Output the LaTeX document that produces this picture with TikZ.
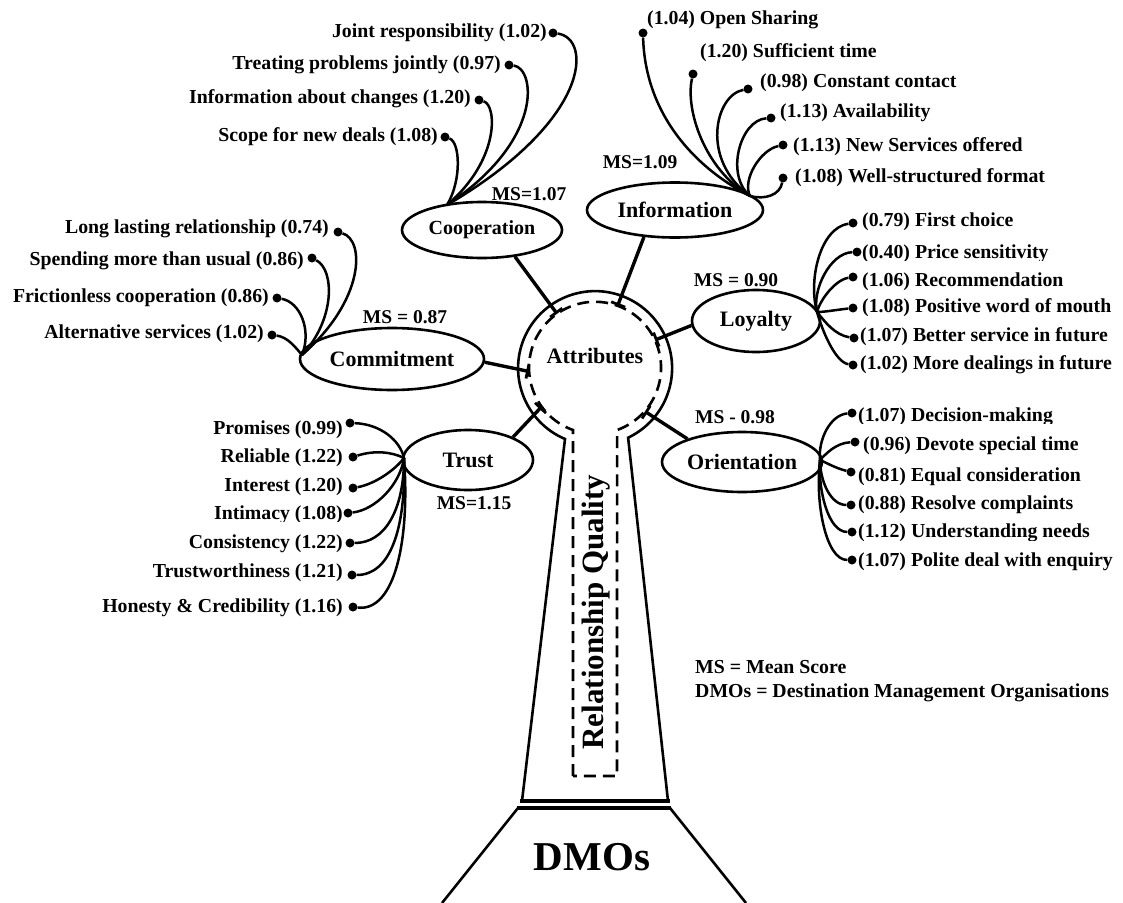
\documentclass[tikz,border=0pt]{standalone}
\usepackage{fontspec}
\setmainfont{Liberation Serif}
\usetikzlibrary{arrows.meta,positioning,shapes.geometric}

\begin{document}
\begin{tikzpicture}[x=1pt,y=-1pt,
  every node/.style={inner sep=0pt, font=\bfseries\fontsize{19.8}{22}\selectfont},
  leaf/.style={line width=2.5pt},
  dotmark/.style={circle, fill=black, minimum size=9pt, inner sep=0pt},
  topic/.style={ellipse, draw, line width=2.6pt, font=\bfseries\fontsize{22}{24}\selectfont},
  spoke/.style={line width=3.4pt, -{Bar[width=15pt,line width=2.8pt]}},
  ring/.style={line width=2.6pt},
  ms/.style={font=\bfseries\fontsize{19.5}{22}\selectfont}
]
\useasboundingbox (0,0) rectangle (1123,902);

% ---------- central hub, trunk and base ----------
\node[circle, minimum size=132pt] (attr) at (595,368) {};
\node[font=\bfseries\fontsize{22}{24}\selectfont] (attrtxt) at (595,356) {Attributes};

% outer ring opening into the trunk
\draw[ring] (522,801) -- (565,439) arc[start angle=113, end angle=424.6, radius=77] -- (668,801);
% inner dashed ring and dashed column
\draw[ring, dash pattern=on 12pt off 7pt]
  (573,776) -- (573,430) arc[start angle=109.5, end angle=430.5, radius=66] -- (617,776) -- cycle;
\node[rotate=90, font=\bfseries\fontsize{31}{34}\selectfont] (rq) at (596,612) {Relationship Quality};

% base of the trunk
\draw[line width=3.4pt] (520,801) -- (670,801);
\draw[line width=3.4pt] (517,808) -- (671,808);
\draw[ring] (518,808) -- (442,903);
\draw[ring] (670,808) -- (746,903);
\node[font=\bfseries\fontsize{41}{44}\selectfont] (dmos) at (592,857) {DMOs};

% ---------- attribute ellipses ----------
\node[topic, minimum width=160pt, minimum height=56pt, font=\bfseries\fontsize{20}{22}\selectfont] (coop) at (482,230) {Cooperation};
\node[topic, minimum width=176pt, minimum height=55pt] (info) at (675,210) {Information};
\node[topic, minimum width=184pt, minimum height=62pt] (comm) at (392,359) {Commitment};
\node[topic, minimum width=130pt, minimum height=60pt] (trust) at (468,460) {Trust};
\node[topic, minimum width=128pt, minimum height=62pt] (loy) at (756,321) {Loyalty};
\node[topic, minimum width=160pt, minimum height=60pt] (ori) at (742,462) {Orientation};

% spokes into the hub
\draw[spoke] (coop.-39) -- (attr.125);
\draw[spoke] (info.221) -- (attr.70);
\draw[spoke] (comm.-2) -- (attr.183);
\draw[spoke] (trust.27) -- (attr.216);
\draw[spoke] (loy.184) -- (attr.25);
\draw[spoke] (ori.157) -- (attr.-41);

% mean scores
\node[ms] (mscoop) at (529,194) {MS=1.07};
\node[ms] (msinfo) at (640,162) {MS=1.09};
\node[ms] (mscomm) at (405,317) {MS = 0.87};
\node[ms] (mstrust) at (474,503) {MS=1.15};
\node[ms] (msloy) at (736,280) {MS = 0.90};
\node[ms] (msori) at (735,417) {MS - 0.98};

% ---------- Cooperation items ----------
\coordinate (coopC) at (447,205);
\node[dotmark] (c1) at (553,33) {};
\node[dotmark] (c2) at (509,65) {};
\node[dotmark] (c3) at (479,100) {};
\node[dotmark] (c4) at (445,137) {};
\node[anchor=east] (c1t) at (547,33) {Joint responsibility (1.02)};
\node[anchor=east] (c2t) at (501,65) {Treating problems jointly (0.97)};
\node[anchor=east] (c3t) at (471,99) {Information about changes (1.20)};
\node[anchor=east] (c4t) at (438,137) {Scope for new deals (1.08)};
\draw[leaf] (c1) .. controls (592,38) and (592,120) .. (coopC);
\draw[leaf] (c2) .. controls (535,68) and (545,140) .. (coopC);
\draw[leaf] (c3) .. controls (497,105) and (500,160) .. (coopC);
\draw[leaf] (c4) .. controls (460,142) and (462,180) .. (coopC);

% ---------- Information items ----------
\coordinate (infoC) at (750,196);
\node[dotmark] (i1) at (643,33) {};
\node[dotmark] (i2) at (693,74) {};
\node[dotmark] (i3) at (748,89) {};
\node[dotmark] (i4) at (771,118) {};
\node[dotmark] (i5) at (783,145) {};
\node[dotmark] (i6) at (783,178) {};
\node[anchor=west] (i1t) at (647,20) {(1.04) Open Sharing};
\node[anchor=west] (i2t) at (700,53) {(1.20) Sufficient time};
\node[anchor=west] (i3t) at (760,83) {(0.98) Constant contact};
\node[anchor=west] (i4t) at (780,113) {(1.13) Availability};
\node[anchor=west] (i5t) at (793,147) {(1.13) New Services offered};
\node[anchor=west] (i6t) at (795,178) {(1.08) Well-structured format};
\draw[leaf] (i1) .. controls (645,110) and (690,165) .. (infoC);
\draw[leaf] (i2) .. controls (685,110) and (705,170) .. (infoC);
\draw[leaf] (i3) .. controls (715,95) and (700,160) .. (infoC);
\draw[leaf] (i4) .. controls (740,120) and (725,175) .. (infoC);
\draw[leaf] (i5) .. controls (760,150) and (742,180) .. (infoC);
\draw[leaf] (i6) .. controls (780,195) and (765,200) .. (infoC);

% ---------- Commitment items ----------
\coordinate (commC) at (302,355);
\node[dotmark] (m1) at (338,232) {};
\node[dotmark] (m2) at (312,258) {};
\node[dotmark] (m3) at (277,298) {};
\node[dotmark] (m4) at (272,335) {};
\node[anchor=east] (m1t) at (329,229) {Long lasting relationship (0.74)};
\node[anchor=east] (m2t) at (304,261) {Spending more than usual (0.86)};
\node[anchor=east] (m3t) at (269,298) {Frictionless cooperation (0.86)};
\node[anchor=east] (m4t) at (264,334) {Alternative services (1.02)};
\draw[leaf] (m1) .. controls (365,240) and (365,300) .. (commC);
\draw[leaf] (m2) .. controls (335,270) and (335,320) .. (commC);
\draw[leaf] (m3) .. controls (300,302) and (312,330) .. (commC);
\draw[leaf] (m4) .. controls (288,337) and (296,348) .. (commC);

% ---------- Trust items ----------
\coordinate (trustC) at (404,458);
\node[dotmark] (t1) at (350,423) {};
\node[dotmark] (t2) at (353,457) {};
\node[dotmark] (t3) at (353,488) {};
\node[dotmark] (t4) at (348,513) {};
\node[dotmark] (t5) at (350,543) {};
\node[dotmark] (t6) at (352,575) {};
\node[dotmark] (t7) at (353,607) {};
\node[anchor=east] (t1t) at (343,430) {Promises (0.99)};
\node[anchor=east] (t2t) at (343,458) {Reliable (1.22)};
\node[anchor=east] (t3t) at (343,487) {Interest (1.20)};
\begin{scope}
  \clip (150,500) rectangle (346,521);
  \node[anchor=east] (t4t) at (343,515) {Intimacy (1.08)};
\end{scope}
\node[anchor=east] (t5t) at (343,544) {Consistency (1.22)};
\node[anchor=east] (t6t) at (343,573) {Trustworthiness (1.21)};
\node[anchor=east] (t7t) at (343,608) {Honesty \& Credibility (1.16)};
\draw[leaf] (t1) .. controls (380,424) and (400,440) .. (trustC);
\draw[leaf] (t2) .. controls (375,450) and (392,452) .. (trustC);
\draw[leaf] (t3) .. controls (375,484) and (395,470) .. (trustC);
\draw[leaf] (t4) .. controls (375,510) and (400,485) .. (trustC);
\draw[leaf] (t5) .. controls (385,543) and (404,510) .. (trustC);
\draw[leaf] (t6) .. controls (390,575) and (406,530) .. (trustC);
\draw[leaf] (t7) .. controls (395,612) and (410,540) .. (trustC);

% ---------- Loyalty items ----------
\coordinate (loyC) at (817,312);
\node[dotmark] (l1) at (853,223) {};
\node[dotmark] (l2) at (857,252) {};
\node[dotmark] (l3) at (853,277) {};
\node[dotmark] (l4) at (853,308) {};
\node[dotmark] (l5) at (854,338) {};
\node[dotmark] (l6) at (853,365) {};
\node[anchor=west] (l1t) at (862,222) {(0.79) First choice};
\begin{scope}
  \clip (858,240) rectangle (1123,260);
  \node[anchor=west] (l2t) at (862,254) {(0.40) Price sensitivity};
\end{scope}
\node[anchor=west] (l3t) at (862,282) {(1.06) Recommendation};
\begin{scope}
  \clip (858,295) rectangle (1123,315);
  \node[anchor=west] (l4t) at (862,308) {(1.08) Positive word of mouth};
\end{scope}
\node[anchor=west] (l5t) at (860,337) {(1.07) Better service in future};
\node[anchor=west] (l6t) at (860,365) {(1.02) More dealings in future};
\draw[leaf] (l1) .. controls (820,228) and (808,280) .. (loyC);
\draw[leaf] (l2) .. controls (830,253) and (812,290) .. (loyC);
\draw[leaf] (l3) .. controls (835,280) and (820,300) .. (loyC);
\draw[leaf] (l4) .. controls (835,310) and (825,312) .. (loyC);
\draw[leaf] (l5) .. controls (835,335) and (825,322) .. (loyC);
\draw[leaf] (l6) .. controls (835,362) and (822,330) .. (loyC);

% ---------- Orientation items ----------
\coordinate (oriC) at (820,460);
\node[dotmark] (o1) at (852,413) {};
\node[dotmark] (o2) at (855,442) {};
\node[dotmark] (o3) at (851,472) {};
\node[dotmark] (o4) at (851,505) {};
\node[dotmark] (o5) at (852,532) {};
\node[dotmark] (o6) at (852,560) {};
\begin{scope}
  \clip (855,400) rectangle (1123,423);
  \node[anchor=west] (o1t) at (858,417) {(1.07) Decision-making};
\end{scope}
\node[anchor=west] (o2t) at (863,446) {(0.96) Devote special time};
\node[anchor=west] (o3t) at (858,477) {(0.81) Equal consideration};
\node[anchor=west] (o4t) at (858,505) {(0.88) Resolve complaints};
\begin{scope}
  \clip (855,520) rectangle (1123,540);
  \node[anchor=west] (o5t) at (858,533) {(1.12) Understanding needs};
\end{scope}
\node[anchor=west] (o6t) at (858,562) {(1.07) Polite deal with enquiry};
\draw[leaf] (o1) .. controls (830,415) and (818,440) .. (oriC);
\draw[leaf] (o2) .. controls (835,443) and (825,455) .. (oriC);
\draw[leaf] (o3) .. controls (835,468) and (825,462) .. (oriC);
\draw[leaf] (o4) .. controls (830,505) and (820,480) .. (oriC);
\draw[leaf] (o5) .. controls (828,532) and (818,490) .. (oriC);
\draw[leaf] (o6) .. controls (825,560) and (815,500) .. (oriC);

% ---------- legend ----------
\node[anchor=west] (leg1) at (695,667) {MS = Mean Score};
\node[anchor=west] (leg2) at (695,693) {DMOs = Destination Management Organisations};
\end{tikzpicture}
\end{document}
